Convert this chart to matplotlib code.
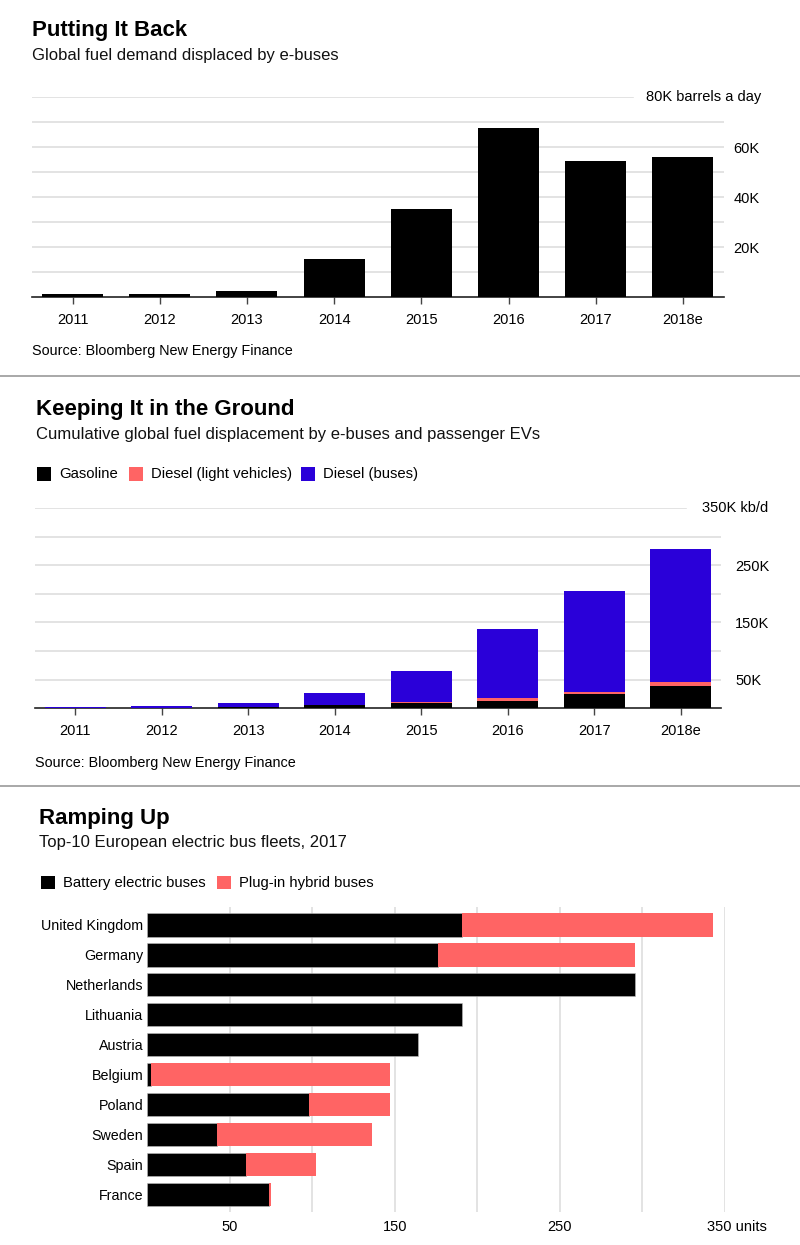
import matplotlib
matplotlib.use('Agg')
import matplotlib.pyplot as plt
from matplotlib.patches import Rectangle
from matplotlib.transforms import ScaledTranslation
import numpy as np

plt.rcParams['font.family'] = ['Liberation Sans', 'DejaVu Sans']

# ---------------- data ----------------
years = ['2011', '2012', '2013', '2014', '2015', '2016', '2017', '2018e']
ebus_displaced = [1300, 1200, 2400, 15200, 35400, 67800, 54600, 56200]

stack_names = ['Gasoline', 'Diesel (light vehicles)', 'Diesel (buses)']
gasoline = [400, 1000, 2500, 5200, 8700, 13300, 24500, 39500]
diesel_light = [100, 200, 300, 800, 1600, 4200, 3500, 7000]
diesel_buses = [1700, 2800, 5900, 20200, 54400, 121500, 177600, 232000]

countries = ['United Kingdom', 'Germany', 'Netherlands', 'Lithuania', 'Austria',
             'Belgium', 'Poland', 'Sweden', 'Spain', 'France']
fleet_names = ['Battery electric buses', 'Plug-in hybrid buses']
battery = [191, 176, 296, 191, 164, 2, 98, 42, 60, 74]
hybrid = [152, 120, 0, 0, 0, 145, 49, 94, 42, 1]

# ---------------- style ----------------
W, H = 800, 1245
BLUE = '#2a00d9'
RED = '#ff6464'
GRID = '#dedede'
fig = plt.figure(figsize=(W / 100, H / 100), dpi=100)


def fx(x):
    return x / W


def fy(y):
    return 1 - y / H


def title_block(x, y_title, y_sub, title, sub):
    fig.text(fx(x), fy(y_title), title, fontsize=16, fontweight='bold', va='baseline', ha='left')
    fig.text(fx(x), fy(y_sub), sub, fontsize=12, va='baseline', ha='left', color='#111111')


def legend_item(x, y, color, label):
    fig.add_artist(Rectangle((fx(x), fy(y + 6.7)), fx(14), 13.3 / H, transform=fig.transFigure,
                             facecolor=color, edgecolor='none'))
    fig.text(fx(x + 22), fy(y), label, fontsize=10.7, va='center', ha='left')


def style_vbar_axes(ax, n):
    for s in ['top', 'left', 'right']:
        ax.spines[s].set_visible(False)
    ax.spines['bottom'].set_color('#222222')
    ax.spines['bottom'].set_linewidth(1.2)
    ax.set_xticks(range(n))
    ax.tick_params(axis='x', length=5, width=1, color='#444444', labelsize=10.5, pad=6)
    ax.yaxis.tick_right()
    ax.tick_params(axis='y', length=0, labelsize=10.5)


# separators
for ysep in [375.7, 786]:
    fig.add_artist(plt.Line2D([0, 1], [fy(ysep), fy(ysep)], transform=fig.transFigure,
                              color='#9a9a9a', lw=1.2))

# ================= chart 1 =================
title_block(32, 36, 60, 'Putting It Back', 'Global fuel demand displaced by e-buses')
ax1 = fig.add_axes([fx(32), fy(297.3), fx(723.5 - 32), 200 / H])
x = np.arange(len(years))
ax1.bar(x, ebus_displaced, width=0.7, color='black', zorder=3)
ax1.set_xlim(-0.465, len(years) - 1 + 0.465)
ax1.set_ylim(0, 80000)
for v in range(10000, 80001, 10000):
    xmax = (633 - 32) / (723.5 - 32) if v == 80000 else 1
    ax1.axhline(v, xmin=0, xmax=xmax, color=GRID, lw=1.2, zorder=0)
style_vbar_axes(ax1, len(years))
ax1.set_xticklabels(years)
ax1.set_yticks([20000, 40000, 60000])
ax1.set_yticklabels(['20K', '40K', '60K'])
ax1.tick_params(axis='y', pad=7)
fig.text(fx(761), fy(97.5), '80K barrels a day', fontsize=10.5, ha='right', va='center')
fig.text(fx(32), fy(355), 'Source: Bloomberg New Energy Finance', fontsize=10.4, va='baseline')

# ================= chart 2 =================
title_block(35.5, 415, 438.5, 'Keeping It in the Ground',
            'Cumulative global fuel displacement by e-buses and passenger EVs')
legend_xs = [37.4, 129, 301]
for lx, c, lab in zip(legend_xs, ['black', RED, BLUE], stack_names):
    legend_item(lx, 474, c, lab)

ax2 = fig.add_axes([fx(35), fy(708.3), fx(720.5 - 35), 200.3 / H])
g = np.array(gasoline)
dl = np.array(diesel_light)
db = np.array(diesel_buses)
ax2.bar(x, g, width=0.705, color='black', zorder=3)
ax2.bar(x, dl, bottom=g, width=0.705, color=RED, zorder=3)
ax2.bar(x, db, bottom=g + dl, width=0.705, color=BLUE, zorder=3)
ax2.set_xlim(-0.468, len(years) - 1 + 0.457)
ax2.set_ylim(0, 350000)
for v in range(50000, 350001, 50000):
    xmax = (686 - 35) / (720.5 - 35) if v == 350000 else 1
    ax2.axhline(v, xmin=0, xmax=xmax, color=GRID, lw=1.2, zorder=0)
style_vbar_axes(ax2, len(years))
ax2.set_xticklabels(years)
ax2.set_yticks([50000, 150000, 250000])
ax2.set_yticklabels(['50K', '150K', '250K'])
ax2.tick_params(axis='y', pad=10.5)
fig.text(fx(768), fy(508), '350K kb/d', fontsize=10.5, ha='right', va='center')
fig.text(fx(35), fy(766.5), 'Source: Bloomberg New Energy Finance', fontsize=10.4, va='baseline')

# ================= chart 3 =================
title_block(39, 824.3, 847.3, 'Ramping Up', 'Top-10 European electric bus fleets, 2017')
for lx, c, lab in zip([41, 217.3], ['black', RED], fleet_names):
    legend_item(lx, 882.7, c, lab)

ax3 = fig.add_axes([fx(147.4), fy(1211.7), fx(724.5 - 147.4), 305 / H])
yy = np.arange(len(countries))
ax3.barh(yy, battery, height=0.78, color='black', edgecolor='#bbbbbb', linewidth=0.4, zorder=3)
ax3.barh(yy, hybrid, left=battery, height=0.78, color=RED, linewidth=0, zorder=3)
ax3.set_xlim(0, 350)
ax3.set_ylim(len(countries) - 1 + 0.58, -0.61)
for v in range(50, 351, 50):
    ax3.axvline(v, color=GRID, lw=1.2, zorder=0)
for s in ax3.spines.values():
    s.set_visible(False)
ax3.set_yticks(yy)
ax3.set_yticklabels(countries)
ax3.tick_params(axis='y', length=0, labelsize=10.3, pad=3)
ax3.set_xticks([50, 150, 250, 350])
ax3.set_xticklabels(['50', '150', '250', '350 units'])
ax3.tick_params(axis='x', length=0, labelsize=10.5, pad=6)
last = ax3.get_xticklabels()[-1]
last.set_transform(last.get_transform() + ScaledTranslation(12.5 / 100, 0, fig.dpi_scale_trans))

fig.savefig('out.png', dpi=100)
